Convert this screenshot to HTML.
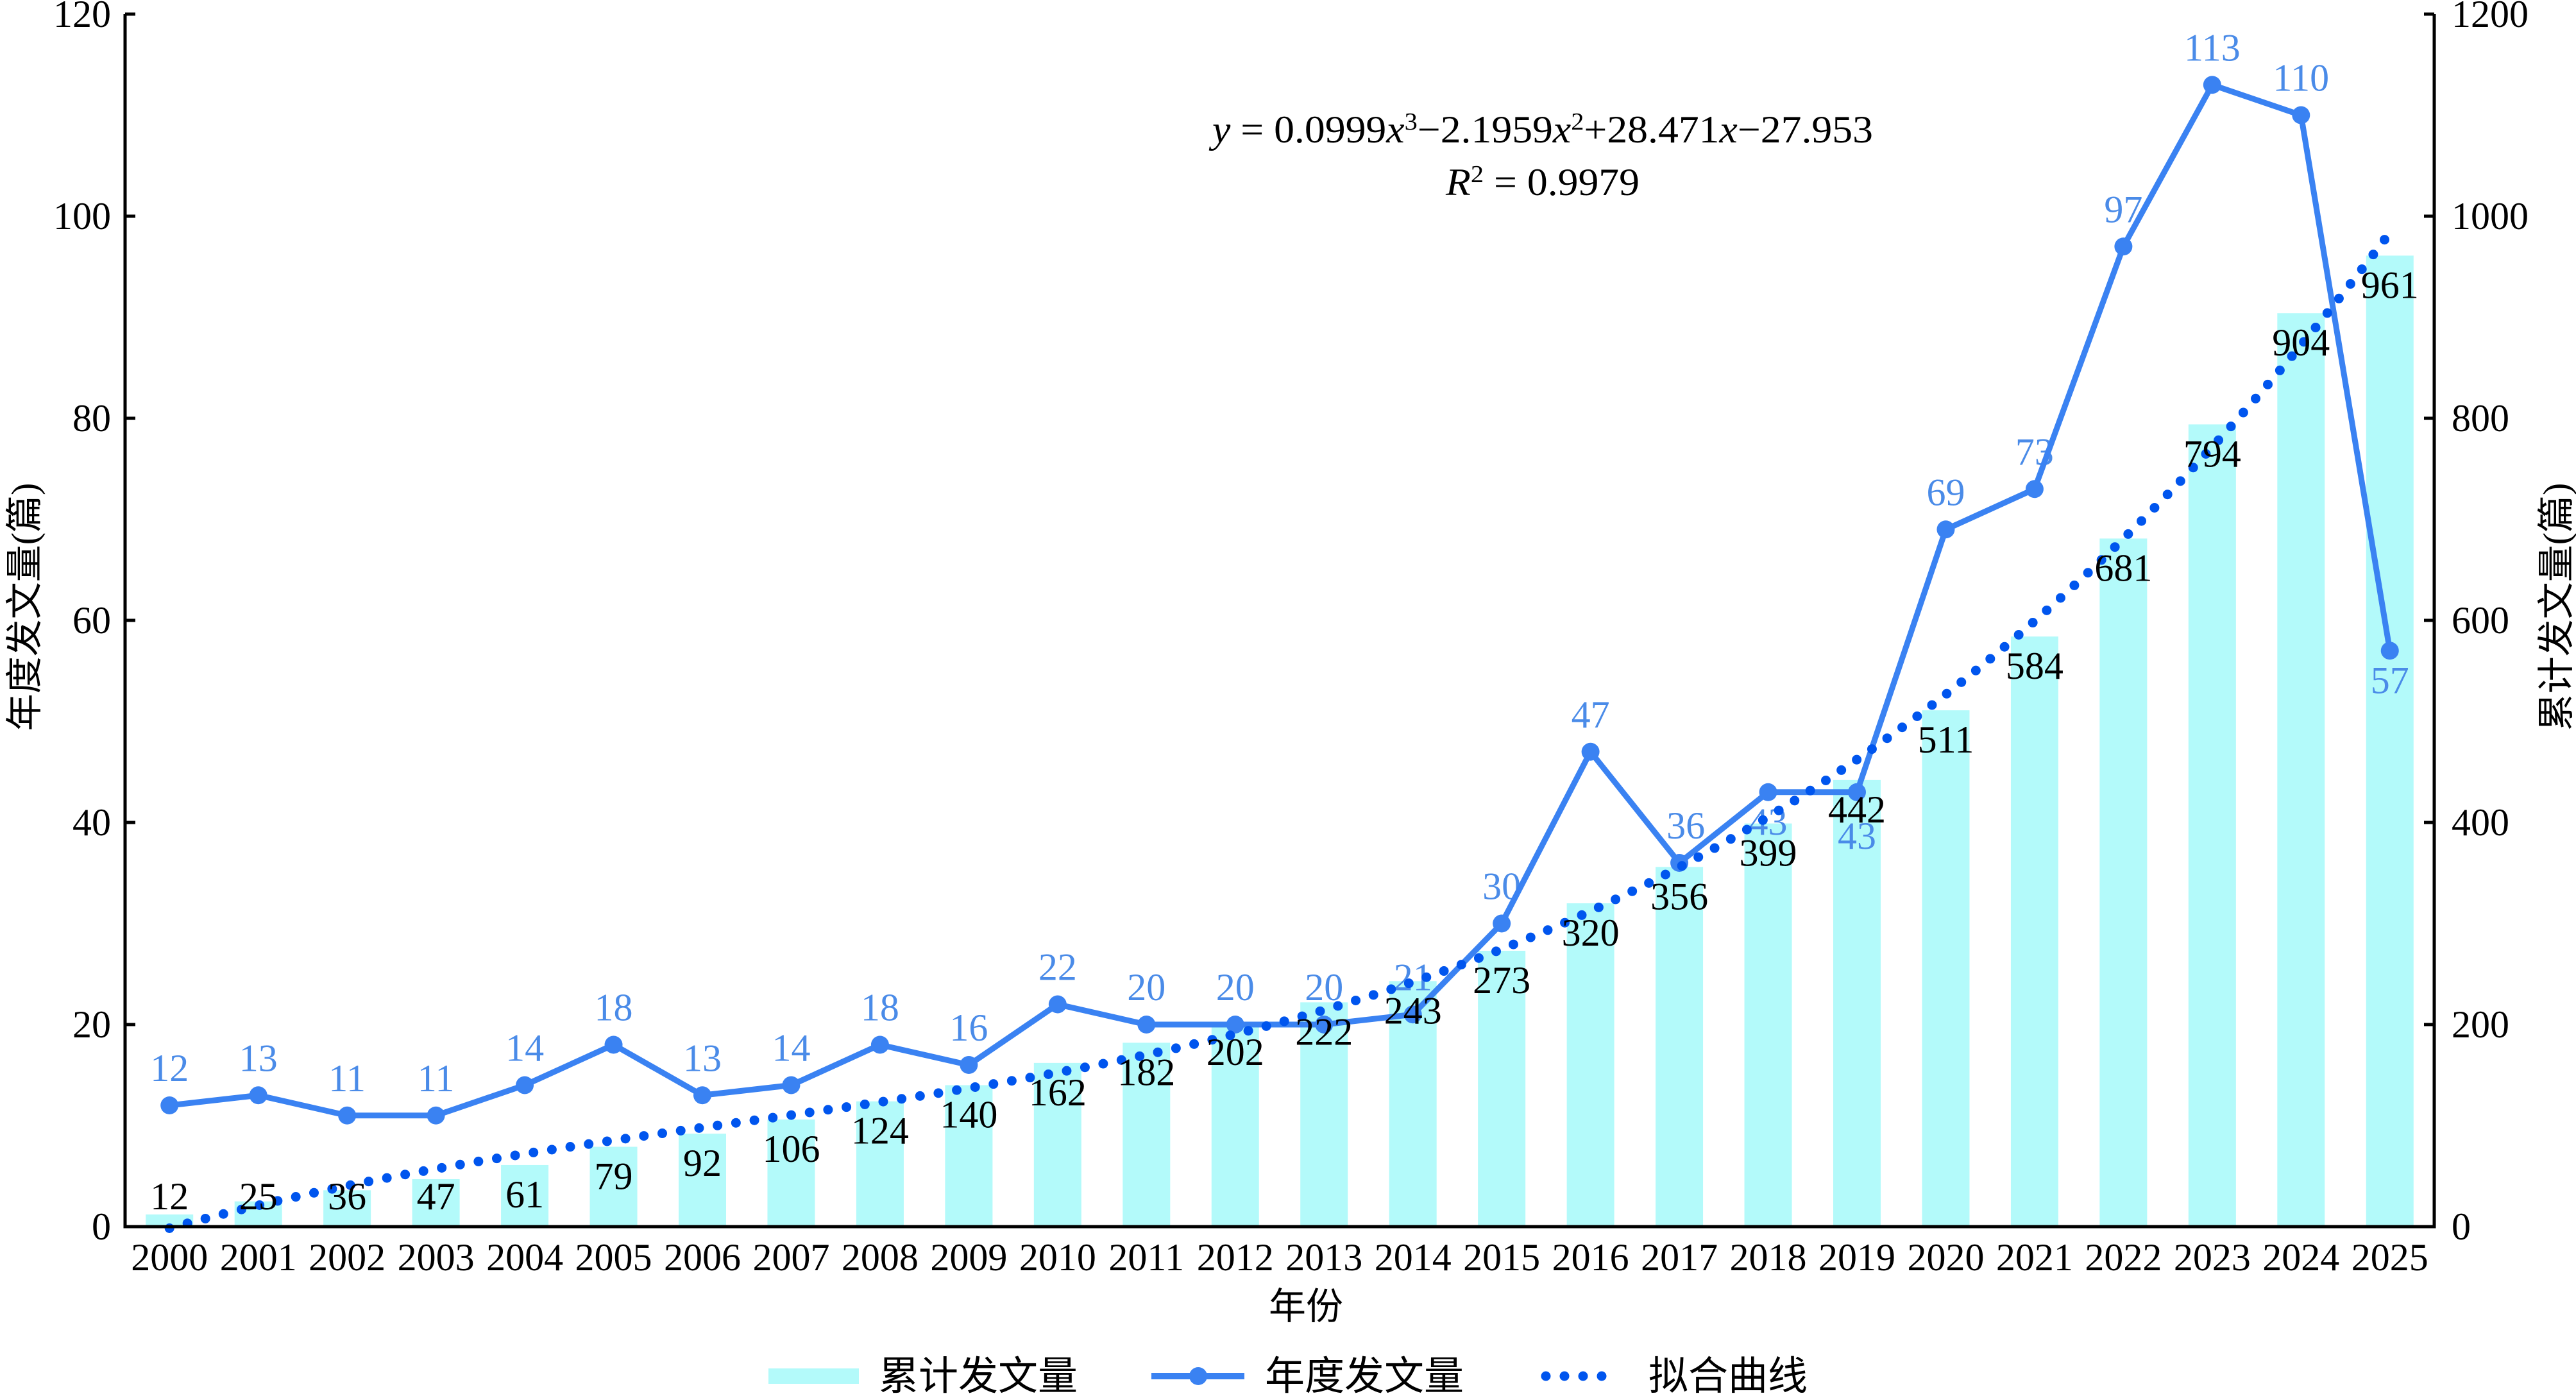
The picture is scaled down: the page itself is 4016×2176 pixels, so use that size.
<!DOCTYPE html>
<html><head><meta charset="utf-8"><style>
html,body{margin:0;padding:0;background:#fff;}
svg{display:block;}
text{font-family:"Liberation Serif","Noto Serif CJK SC",serif;}
.cjk{font-family:"Liberation Serif","Noto Sans CJK SC",sans-serif;}
</style></head><body>
<svg id="c" width="4016" height="2176" viewBox="0 0 4016 2176" xmlns="http://www.w3.org/2000/svg"></svg>
<script>
const svg=document.getElementById('c');
const ns='http://www.w3.org/2000/svg';
function el(t,a,txt){const e=document.createElementNS(ns,t);for(const k in a)e.setAttribute(k,a[k]);if(txt!==undefined)e.textContent=txt;svg.appendChild(e);return e;}
const L=195,R=3795,T=22,B=1912;
const bw=(R-L)/26;
const cx=i=>L+bw/2+i*bw;
const yl=v=>B-v*(B-T)/120;
const yr=v=>B-v*(B-T)/1200;
const ann=[12,13,11,11,14,18,13,14,18,16,22,20,20,20,21,30,47,36,43,43,69,73,97,113,110,57];
const cum=[12,25,36,47,61,79,92,106,124,140,162,182,202,222,243,273,320,356,399,442,511,584,681,794,904,961];
// bars
for(let i=0;i<26;i++){el('rect',{x:cx(i)-37,y:yr(cum[i]),width:74,height:B-yr(cum[i]),fill:'#b3fafa'});}
// blue labels
for(let i=0;i<26;i++){
  let x=cx(i),y=yl(ann[i])-38;
  if(i==17){x+=10;y=yl(ann[i])-38;}
  if(i==18){y=yl(ann[i])+66;}
  if(i==19){y=yl(ann[i])+88;}
  if(i==25){y=yl(ann[i])+66;}
  el('text',{x:x,y:y,'font-size':60,fill:'#4a8be8','text-anchor':'middle'},String(ann[i]));
}
// line
let p='';for(let i=0;i<26;i++)p+=(i?'L':'M')+cx(i)+','+yl(ann[i]);
el('path',{d:p,fill:'none',stroke:'#3a82f2','stroke-width':9,'stroke-linejoin':'round'});
for(let i=0;i<26;i++)el('circle',{cx:cx(i),cy:yl(ann[i]),r:14,fill:'#3a82f2'});
// fit curve
let f='';for(let k=0;k<=250;k++){const x=1+k*25/250;const v=0.0999*x*x*x-2.1959*x*x+28.471*x-27.953;f+=(k?'L':'M')+cx(x-1).toFixed(1)+','+yr(v).toFixed(1);}
el('path',{d:f,fill:'none',stroke:'#0055ee','stroke-width':15,'stroke-linecap':'round','stroke-dasharray':'0 29'});
// black labels
for(let i=0;i<26;i++){const cy=Math.min(yr(cum[i])+46,1865);el('text',{x:cx(i),y:cy+20,'font-size':60,fill:'#000','text-anchor':'middle'},String(cum[i]));}
// axes
el('path',{d:`M${L},${T}V${B}H${R}V${T}`,fill:'none',stroke:'#000','stroke-width':5});
for(let v=0;v<=120;v+=20){const y=yl(v);el('line',{x1:L,x2:L+16,y1:y,y2:y,stroke:'#000','stroke-width':5});el('line',{x1:R,x2:R-16,y1:y,y2:y,stroke:'#000','stroke-width':5});
 el('text',{x:173,y:y+20,'font-size':60,'text-anchor':'end'},String(v));
 el('text',{x:3822,y:y+20,'font-size':60},String(v*10));}
for(let i=0;i<26;i++)el('text',{x:cx(i),y:1980,'font-size':60,'text-anchor':'middle'},String(2000+i));
el('text',{x:2036,y:2056,'font-size':58,'text-anchor':'middle',class:'cjk'},'年份');
el('text',{x:0,y:0,'font-size':58,'text-anchor':'middle',class:'cjk',transform:'translate(58,946) rotate(-90)'},'年度发文量(篇)');
el('text',{x:0,y:0,'font-size':58,'text-anchor':'middle',class:'cjk',transform:'translate(4005,946) rotate(-90)'},'累计发文量(篇)');
// equation
const eq=el('text',{x:1890,y:222,'font-size':60,textLength:1030,lengthAdjust:'spacingAndGlyphs'});
eq.innerHTML='<tspan font-style="italic">y</tspan> = 0.0999<tspan font-style="italic">x</tspan><tspan font-size="38" dy="-20">3</tspan><tspan dy="20">−2.1959</tspan><tspan font-style="italic">x</tspan><tspan font-size="38" dy="-20">2</tspan><tspan dy="20">+28.471</tspan><tspan font-style="italic">x</tspan>−27.953';
const r2=el('text',{x:2254,y:304,'font-size':60,textLength:302,lengthAdjust:'spacingAndGlyphs'});
r2.innerHTML='<tspan font-style="italic">R</tspan><tspan font-size="38" dy="-20">2</tspan><tspan dy="20"> = 0.9979</tspan>';
// legend
el('rect',{x:1198,y:2133,width:141,height:24,fill:'#b3fafa'});
el('text',{x:1370,y:2166,'font-size':62,class:'cjk'},'累计发文量');
el('line',{x1:1795,x2:1940,y1:2145,y2:2145,stroke:'#3a82f2','stroke-width':10});
el('circle',{cx:1868,cy:2145,r:14,fill:'#3a82f2'});
el('text',{x:1972,y:2166,'font-size':62,class:'cjk'},'年度发文量');
el('line',{x1:2410,x2:2525,y1:2145,y2:2145,stroke:'#0055ee','stroke-width':15,'stroke-linecap':'round','stroke-dasharray':'0 29'});
el('text',{x:2570,y:2166,'font-size':62,class:'cjk'},'拟合曲线');
</script>
</body></html>
